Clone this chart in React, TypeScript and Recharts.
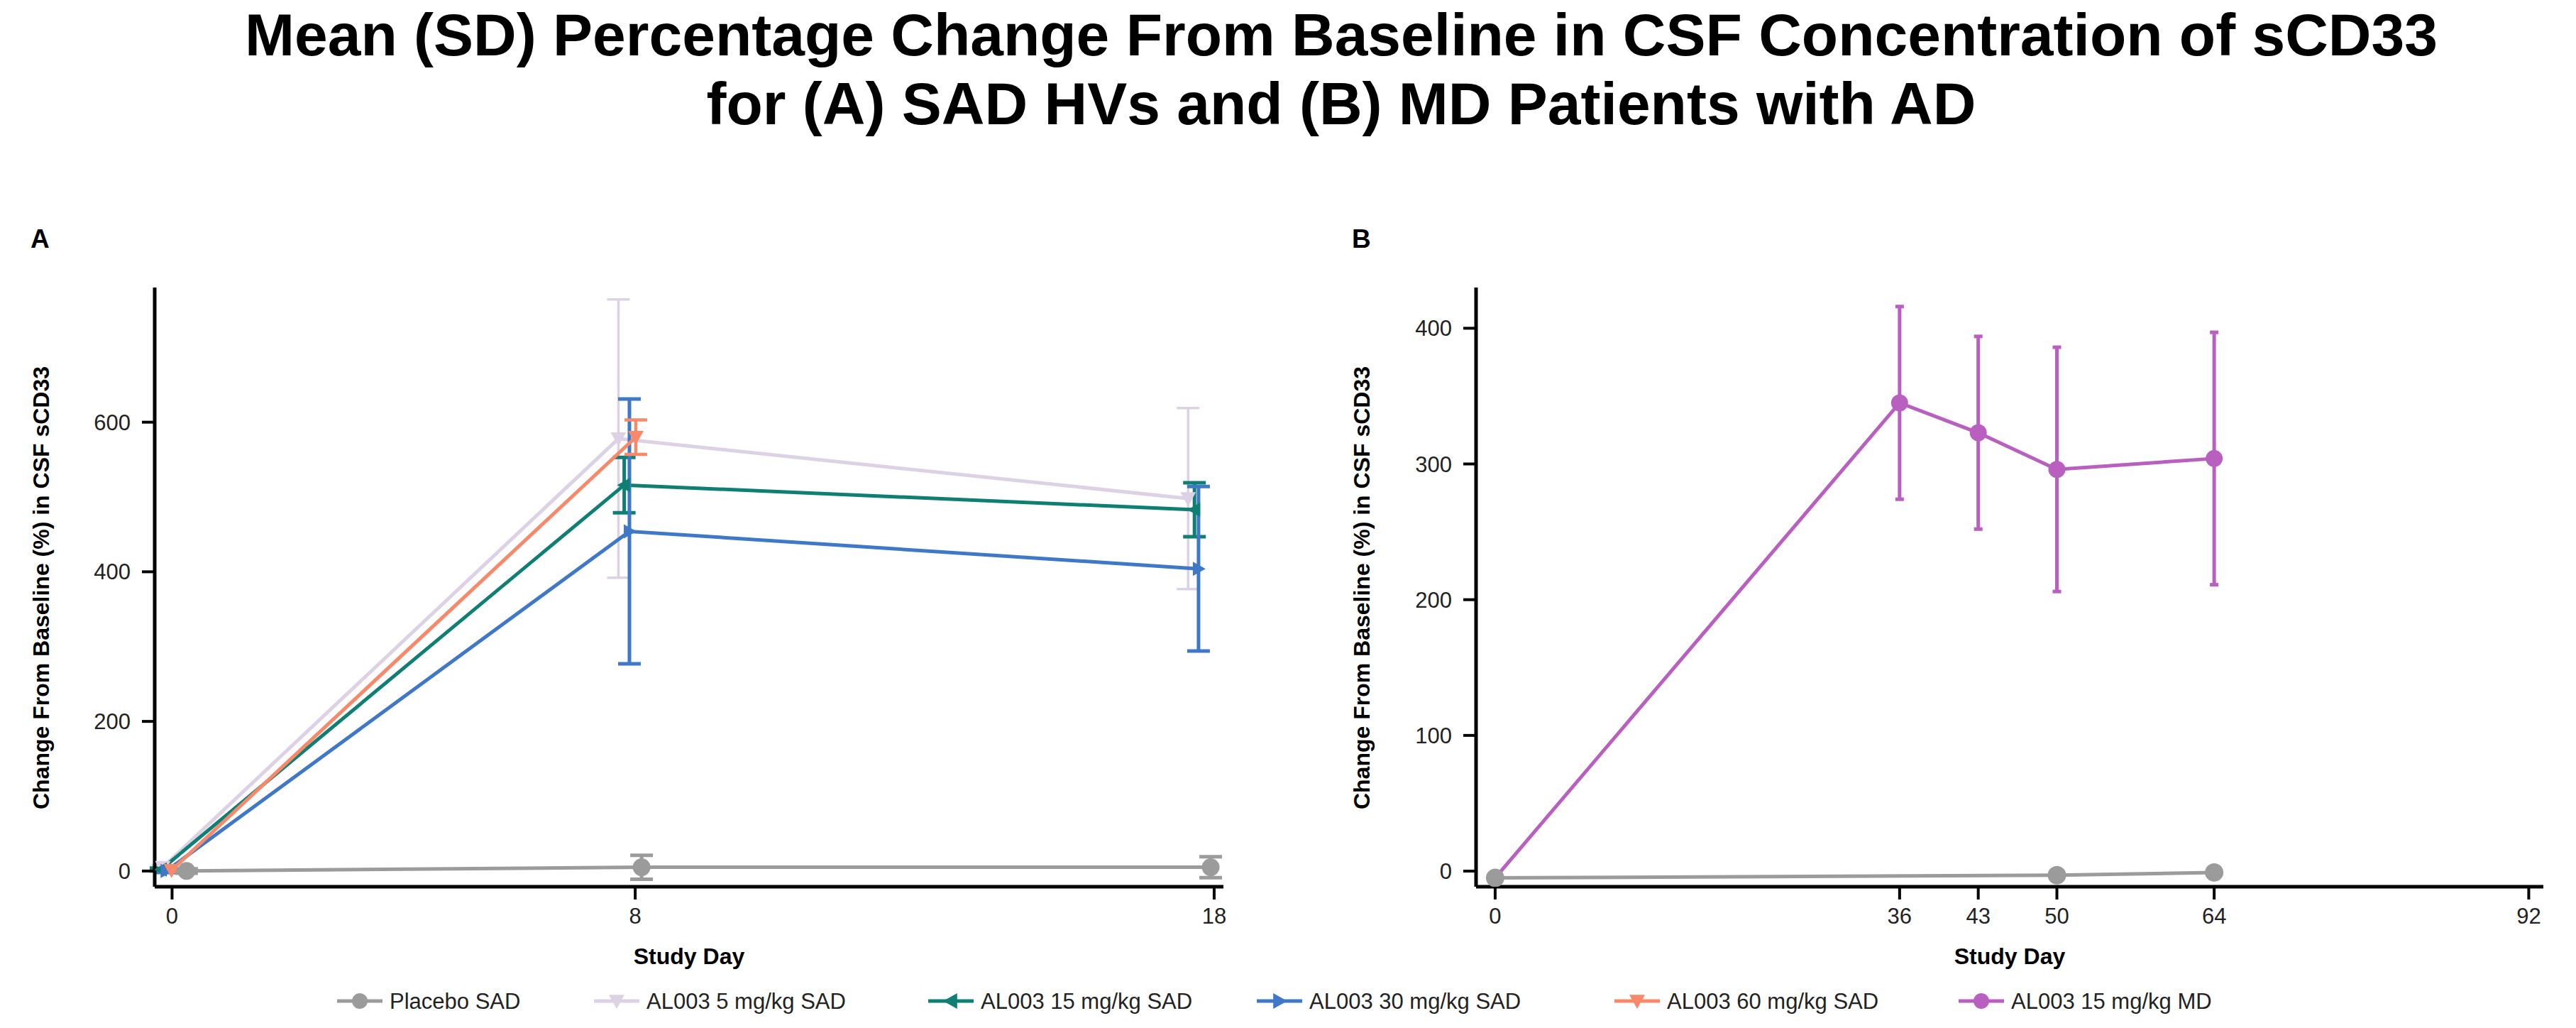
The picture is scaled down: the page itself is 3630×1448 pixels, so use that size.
import React from 'react';
import { LineChart, Line, XAxis, YAxis, ErrorBar } from 'recharts';

// ---------- Panel A (SAD HVs) ----------
const dayTicksA = [0, 8, 18];
const yTicksA = [0, 200, 400, 600];

const placeboA_x = [0.25, 8.11, 17.94];
const placeboA_mean = [0, 5, 5];
const placeboA_sd = [3, 16, 14];

const mg5_x = [-0.16, 7.71, 17.55];
const mg5_mean = [5, 578, 498];
const mg5_sd = [3, 186, 121];

const mg15_x = [-0.19, 7.81, 17.66];
const mg15_mean = [2, 516, 483];
const mg15_sd = [2, 37, 36];

const mg30_x = [-0.1, 7.9, 17.73];
const mg30_mean = [0, 454, 404];
const mg30_sd = [2, 177, 110];

const mg60_x = [-0.01, 8.01];
const mg60_mean = [1, 580];
const mg60_sd = [2, 23];

// ---------- Panel B (MD patients with AD) ----------
const dayTicksB = [0, 36, 43, 50, 64, 92];
const yTicksB = [0, 100, 200, 300, 400];

const placeboB_x = [0, 50, 64];
const placeboB_mean = [-5, -3, -1];
const placeboB_sd = [0, 0, 0];

const md_x = [0, 36, 43, 50, 64];
const md_mean = [-5, 345, 323, 296, 304];
const md_sd = [0, 71, 71, 90, 93];

const legendNames = [
  'Placebo SAD',
  'AL003 5 mg/kg SAD',
  'AL003 15 mg/kg SAD',
  'AL003 30 mg/kg SAD',
  'AL003 60 mg/kg SAD',
  'AL003 15 mg/kg MD',
];

const titleLines = [
  'Mean (SD) Percentage Change From Baseline in CSF Concentration of sCD33',
  'for (A) SAD HVs and (B) MD Patients with AD',
];

// ---------- styles ----------
const COLORS = {
  gray: '#9b9b9b',
  lav: '#ddd2e5',
  teal: '#0f7f74',
  blue: '#3e78c6',
  orange: '#f7896a',
  purple: '#b95fc0',
};
const FONT = '"Liberation Sans", Arial, sans-serif';

const zip = (xs: number[], ms: number[], sds: number[]) =>
  xs.map((x, i) => ({ x, y: ms[i], e: sds[i] }));

type Shape = 'circle' | 'down' | 'left' | 'right';

function MarkerSvg({ cx, cy, shape, color, r }: { cx: number; cy: number; shape: Shape; color: string; r: number }) {
  if (cx == null || cy == null || isNaN(cx) || isNaN(cy)) return null;
  if (shape === 'circle') return <circle cx={cx} cy={cy} r={r} fill={color} />;
  if (shape === 'down')
    return <polygon points={`${cx - r},${cy - r * 0.8} ${cx + r},${cy - r * 0.8} ${cx},${cy + r}`} fill={color} />;
  if (shape === 'left')
    return <polygon points={`${cx - r},${cy} ${cx + r * 0.8},${cy - r} ${cx + r * 0.8},${cy + r}`} fill={color} />;
  return <polygon points={`${cx + r},${cy} ${cx - r * 0.8},${cy - r} ${cx - r * 0.8},${cy + r}`} fill={color} />;
}

const seriesA = [
  { name: legendNames[1], data: zip(mg5_x, mg5_mean, mg5_sd), color: COLORS.lav, shape: 'down' as Shape, r: 11, ebw: 3.5 },
  { name: legendNames[2], data: zip(mg15_x, mg15_mean, mg15_sd), color: COLORS.teal, shape: 'left' as Shape, r: 10, ebw: 5 },
  { name: legendNames[3], data: zip(mg30_x, mg30_mean, mg30_sd), color: COLORS.blue, shape: 'right' as Shape, r: 10, ebw: 5 },
  { name: legendNames[4], data: zip(mg60_x, mg60_mean, mg60_sd), color: COLORS.orange, shape: 'down' as Shape, r: 11, ebw: 4.5 },
  { name: legendNames[0], data: zip(placeboA_x, placeboA_mean, placeboA_sd), color: COLORS.gray, shape: 'circle' as Shape, r: 12.5, ebw: 5 },
];

const seriesB = [
  { name: legendNames[5], data: zip(md_x, md_mean, md_sd), color: COLORS.purple, shape: 'circle' as Shape, r: 12, ebw: 5, capW: 6 },
  { name: 'Placebo', data: zip(placeboB_x, placeboB_mean, placeboB_sd), color: COLORS.gray, shape: 'circle' as Shape, r: 13, ebw: 5, capW: 6 },
];

const legendItems = [
  { name: legendNames[0], color: COLORS.gray, shape: 'circle' as Shape, mx: 507 },
  { name: legendNames[1], color: COLORS.lav, shape: 'down' as Shape, mx: 869 },
  { name: legendNames[2], color: COLORS.teal, shape: 'left' as Shape, mx: 1340 },
  { name: legendNames[3], color: COLORS.blue, shape: 'right' as Shape, mx: 1803 },
  { name: legendNames[4], color: COLORS.orange, shape: 'down' as Shape, mx: 2307 },
  { name: legendNames[5], color: COLORS.purple, shape: 'circle' as Shape, mx: 2792 },
];

const axisLine = { stroke: '#000', strokeWidth: 5 };
const tickLine = { stroke: '#000', strokeWidth: 4 };
const tickStyle = { fill: '#222', fontSize: 31, fontFamily: FONT };

function Panel({ series, xDomain, yDomain, xTicks, yTicks, capW }: any) {
  return (
    <>
      <XAxis
        type="number"
        dataKey="x"
        domain={xDomain}
        ticks={xTicks}
        allowDataOverflow
        interval={0}
        axisLine={axisLine}
        tickLine={tickLine}
        tickSize={18}
        tickMargin={12}
        tick={tickStyle}
        height={60}
      />
      <YAxis
        type="number"
        dataKey="y"
        domain={yDomain}
        ticks={yTicks}
        allowDataOverflow
        interval={0}
        axisLine={axisLine}
        tickLine={tickLine}
        tickSize={18}
        tickMargin={16}
        tick={tickStyle}
        width={150}
      />
      {series.map((s: any) => (
        <Line
          key={s.name}
          data={s.data}
          dataKey="y"
          type="linear"
          stroke={s.color}
          strokeWidth={5}
          isAnimationActive={false}
          activeDot={false}
          dot={(p: any) => <MarkerSvg key={`${s.name}-${p.index}`} cx={p.cx} cy={p.cy} shape={s.shape} color={s.color} r={s.r} />}
        >
          <ErrorBar dataKey="e" direction="y" width={s.capW ?? capW} stroke={s.color} strokeWidth={s.ebw} isAnimationActive={false} />
        </Line>
      ))}
    </>
  );
}

export default function App() {
  const W = 3630;
  const H = 1448;
  return (
    <div style={{ position: 'absolute', left: 0, top: 0, width: W, height: H, background: '#fff', overflow: 'hidden' }}>
      {/* Panel A: plot area x 218..1724, y 405..1249 */}
      <div style={{ position: 'absolute', left: 0, top: 0 }}>
        <LineChart width={1800} height={H} margin={{ top: 405, right: 76, bottom: 139, left: 68 }}>
          {Panel({ series: seriesA, xDomain: [-0.3, 18.16], yDomain: [-21, 780], xTicks: dayTicksA, yTicks: yTicksA, capW: 16 })}
        </LineChart>
      </div>
      {/* Panel B: plot area x 2080..3584 */}
      <div style={{ position: 'absolute', left: 1815, top: 0 }}>
        <LineChart width={1815} height={H} margin={{ top: 405, right: 46, bottom: 139, left: 115 }}>
          {Panel({ series: seriesB, xDomain: [-1.7, 93.3], yDomain: [-11.5, 430], xTicks: dayTicksB, yTicks: yTicksB, capW: 6 })}
        </LineChart>
      </div>
      <svg width={W} height={H} style={{ position: 'absolute', left: 0, top: 0, pointerEvents: 'none' }}>
        <g fontFamily={FONT} fontWeight="bold" fill="#000">
          <text x={1890} y={78} fontSize={84} textAnchor="middle">{titleLines[0]}</text>
          <text x={1890} y={175} fontSize={84} textAnchor="middle">{titleLines[1]}</text>
          <text x={43} y={349} fontSize={37}>A</text>
          <text x={1905} y={349} fontSize={37}>B</text>
          <text x={58} y={828} fontSize={32} textAnchor="middle" dy="0.35em" transform="rotate(-90, 58, 828)">
            Change From Baseline (%) in CSF sCD33
          </text>
          <text x={1919} y={828} fontSize={32} textAnchor="middle" dy="0.35em" transform="rotate(-90, 1919, 828)">
            Change From Baseline (%) in CSF sCD33
          </text>
          <text x={971} y={1358} fontSize={32} textAnchor="middle">Study Day</text>
          <text x={2832} y={1358} fontSize={32} textAnchor="middle">Study Day</text>
        </g>
        <g fontFamily={FONT} fontSize={31} fill="#222">
          {legendItems.map((it) => (
            <g key={it.name}>
              <line x1={it.mx - 32} x2={it.mx + 32} y1={1410} y2={1410} stroke={it.color} strokeWidth={5} />
              <MarkerSvg cx={it.mx} cy={1410} shape={it.shape} color={it.color} r={11} />
              <text x={it.mx + 42} y={1410} dy="0.35em">{it.name}</text>
            </g>
          ))}
        </g>
      </svg>
    </div>
  );
}
